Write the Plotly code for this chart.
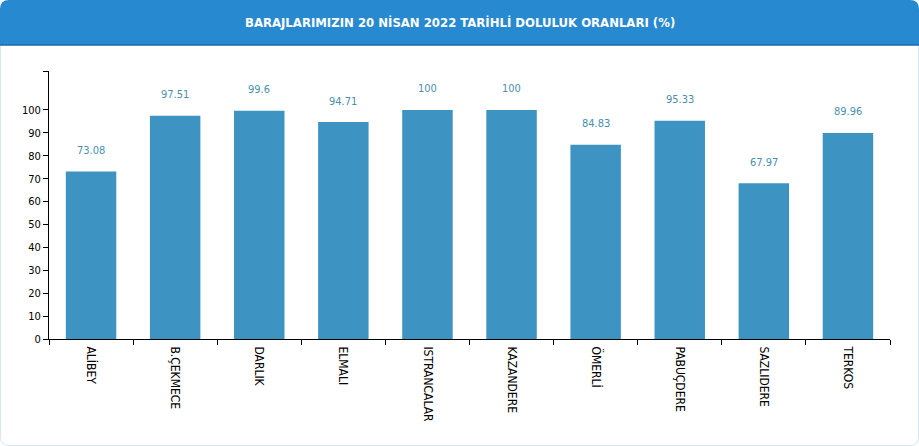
import plotly.graph_objects as go

categories = ["ALİBEY", "B.ÇEKMECE", "DARLIK", "ELMALI", "ISTRANCALAR",
              "KAZANDERE", "ÖMERLİ", "PABUÇDERE", "SAZLIDERE", "TERKOS"]
values = [73.08, 97.51, 99.6, 94.71, 100, 100, 84.83, 95.33, 67.97, 89.96]
value_labels = ["73.08", "97.51", "99.6", "94.71", "100", "100", "84.83", "95.33", "67.97", "89.96"]
ytick_vals = [0, 10, 20, 30, 40, 50, 60, 70, 80, 90, 100, 117]
ytick_text = ["0", "10", "20", "30", "40", "50", "60", "70", "80", "90", "100", ""]
title_text = "BARAJLARIMIZIN 20 NİSAN 2022 TARİHLİ DOLULUK ORANLARI (%)"

W, H = 919, 446
ML, MR, MT, MB = 49, 29, 71, 107
PW = W - ML - MR
PH = H - MT - MB

fig = go.Figure()
fig.add_trace(go.Bar(
    x=categories, y=values, width=0.6,
    marker=dict(color="#3d93c2", line=dict(width=0)),
    hoverinfo="x+y",
))

annotations = []
for c, v, t in zip(categories, values, value_labels):
    annotations.append(dict(
        x=c, y=v, xref="x", yref="y", text=t, showarrow=False,
        yshift=21, font=dict(family="DejaVu Sans Condensed", size=11, color="#4a90ad"),
    ))
annotations.append(dict(
    x=(W / 2 - ML) / PW, xref="paper", y=1 + (MT - 22) / PH, yref="paper",
    text="<b>" + title_text + "</b>",
    showarrow=False, xanchor="center", yanchor="middle",
    font=dict(family="DejaVu Sans Condensed", size=13, color="white"),
))

r = 9
BOT = -(PH + MB)
header_path = (f"M {-ML},{MT - 45} L {-ML},{MT - r} Q {-ML},{MT} {-ML + r},{MT} "
               f"L {PW + MR - r},{MT} Q {PW + MR},{MT} {PW + MR},{MT - r} "
               f"L {PW + MR},{MT - 45} Z")
border_path = (f"M {-ML + 0.5},{MT - 45} L {-ML + 0.5},{BOT + r} Q {-ML + 0.5},{BOT + 0.5} {-ML + r},{BOT + 0.5} "
               f"L {PW + MR - r},{BOT + 0.5} Q {PW + MR - 0.5},{BOT + 0.5} {PW + MR - 0.5},{BOT + r} "
               f"L {PW + MR - 0.5},{MT - 45}")
shapes = [
    dict(type="path", path=border_path, xref="paper", yref="paper",
         xsizemode="pixel", ysizemode="pixel", xanchor=0, yanchor=1,
         line=dict(color="#d6e7f3", width=1), layer="below"),
    dict(type="path", path=header_path, xref="paper", yref="paper",
         xsizemode="pixel", ysizemode="pixel", xanchor=0, yanchor=1,
         fillcolor="#2789d0", line=dict(width=0), layer="below"),
    dict(type="path", path=f"M {-ML},{MT - 45} L {PW + MR},{MT - 45}", xref="paper", yref="paper",
         xsizemode="pixel", ysizemode="pixel", xanchor=0, yanchor=1,
         line=dict(color="#1f6aa5", width=1.5), layer="below"),
]

fig.update_layout(
    width=W, height=H,
    margin=dict(l=ML, r=MR, t=MT, b=MB, pad=0),
    paper_bgcolor="white", plot_bgcolor="white",
    showlegend=False, bargap=0.4,
    annotations=annotations, shapes=shapes,
    font=dict(family="DejaVu Sans Condensed", size=11, color="black"),
    xaxis=dict(
        type="category", tickson="boundaries", ticks="outside", ticklen=5,
        tickcolor="black", showline=True, linecolor="black", linewidth=1,
        tickangle=90, showgrid=False, range=[-0.5, 9.5], ticklabelstandoff=4,
        tickfont=dict(family="DejaVu Sans Condensed", size=12, color="black"),
        fixedrange=True,
    ),
    yaxis=dict(
        range=[0, 117], tickvals=ytick_vals, ticktext=ytick_text,
        ticks="outside", ticklen=5, tickcolor="black", showline=True,
        linecolor="black", linewidth=1, showgrid=False, zeroline=False,
        tickfont=dict(family="DejaVu Sans Condensed", size=11, color="black"),
        fixedrange=True,
    ),
)

fig.write_html("out.html")
